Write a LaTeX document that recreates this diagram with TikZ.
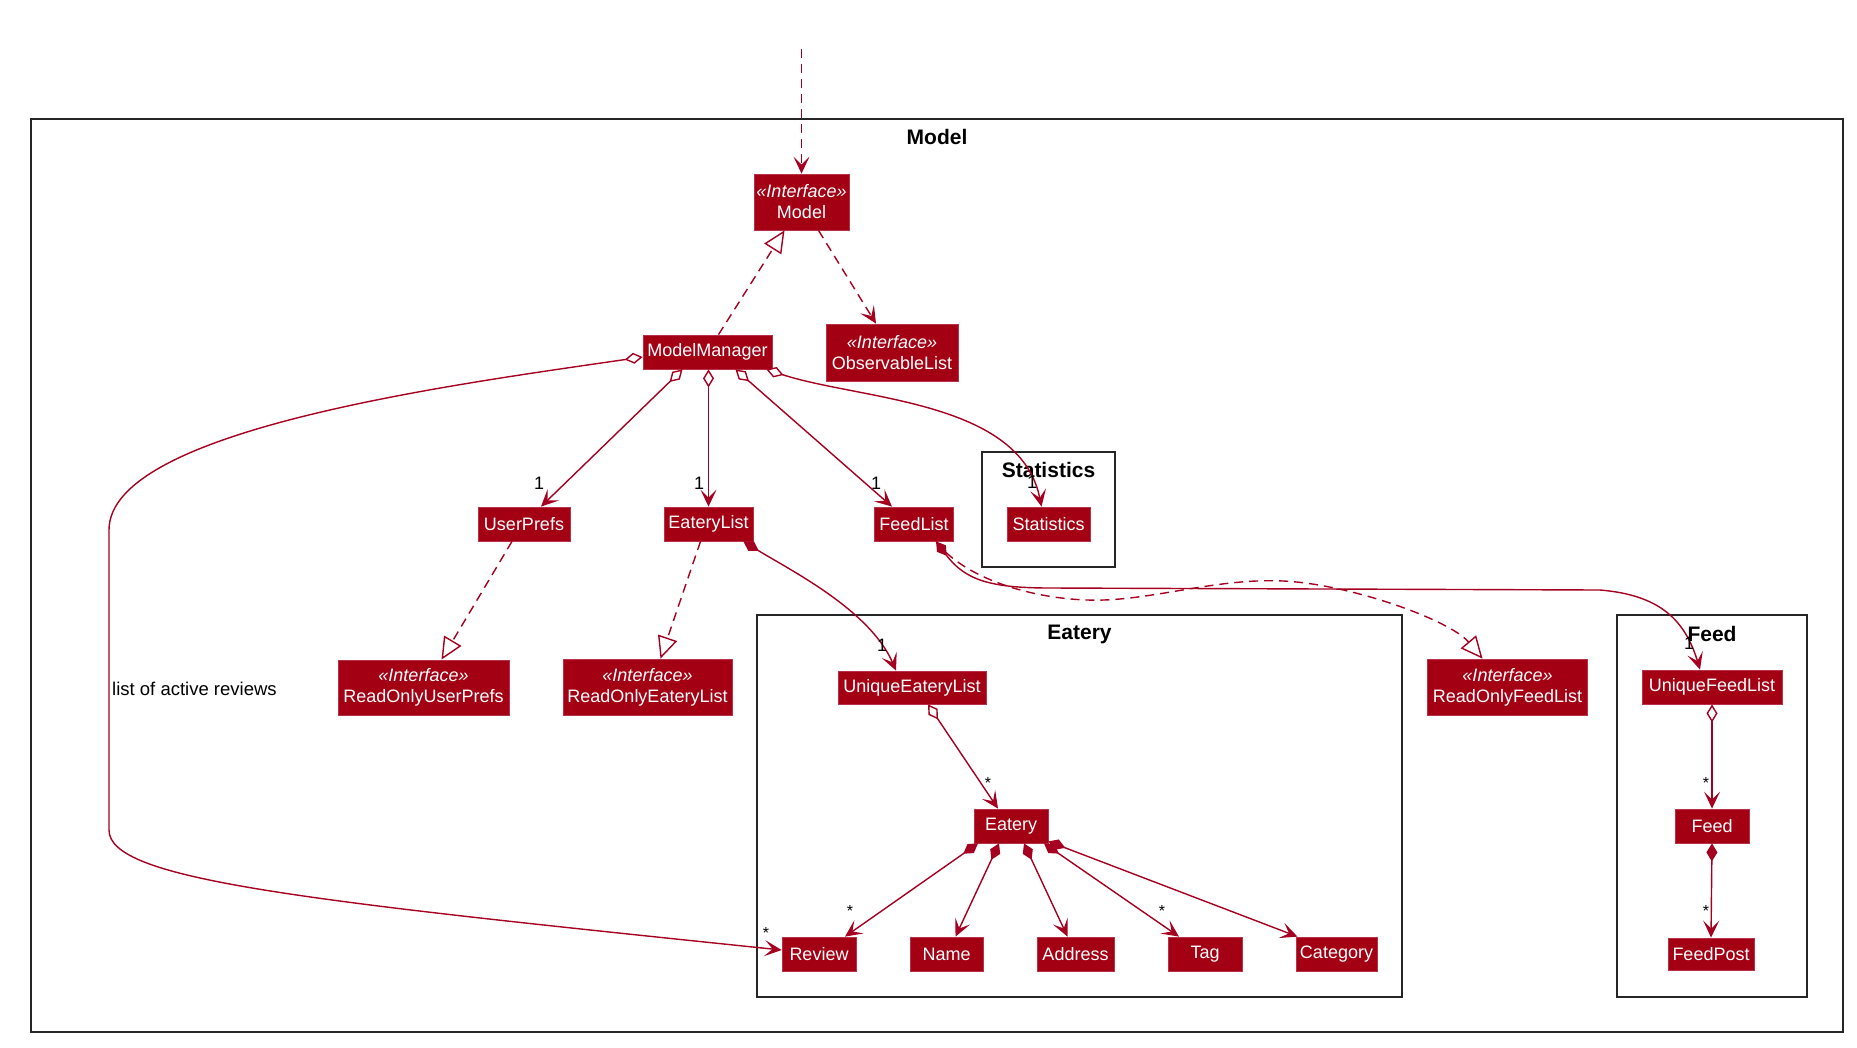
\documentclass[tikz,border=0pt]{standalone}
\usepackage{fontspec}
\setmainfont{Liberation Sans}
\usetikzlibrary{arrows.meta}
\definecolor{clsred}{HTML}{A30014}
\definecolor{clsborder}{HTML}{B8304A}
\definecolor{lnred}{HTML}{A50020}
\begin{document}
\begin{tikzpicture}[x=1pt,y=-1pt,
  cls/.style={draw=clsborder, line width=0.8pt, fill=clsred, text=white,
    font=\fontsize{18}{21}\selectfont, inner sep=0pt, align=center},
  pkgframe/.style={draw=black!85, line width=2pt},
  pkglabel/.style={font=\bfseries\fontsize{21}{21}\selectfont, inner sep=0pt},
  mult/.style={font=\fontsize{18}{18}\selectfont, inner sep=0pt},
  starlbl/.style={font=\fontsize{16}{16}\selectfont, inner sep=0pt},
  conn/.style={draw=lnred, line width=1.4pt},
  dashln/.style={dash pattern=on 9pt off 6pt},
  opentip/.tip={Stealth[length=17pt,width=16pt,inset=8pt]},
  assoc/.style={conn, -opentip},
  dep/.style={conn, dashln, -opentip},
  real/.style={conn, dashln, -{Triangle[open,length=22pt,width=20pt,fill=white]}},
  aggr/.style={conn, {Diamond[open,length=18pt,width=11pt,fill=white]}-opentip},
  comp/.style={conn, {Diamond[length=18pt,width=11pt]}-opentip},
  compdash/.style={conn, dashln}
]
\useasboundingbox (0,0) rectangle (1857,1047);

% packages
\draw[pkgframe] (31,119) rectangle (1843,1032);
\node[pkglabel] (lblmodel) at (937,137) {Model};
\draw[pkgframe] (982,452) rectangle (1115,567);
\node[pkglabel] (lblstat) at (1048.5,470) {Statistics};
\draw[pkgframe] (757,615) rectangle (1402,997);
\node[pkglabel] (lbleatery) at (1079.5,634) {Eatery};
\draw[pkgframe] (1617,615) rectangle (1807,997);
\node[pkglabel] (lblfeed) at (1712,634) {Feed};

% classes
\node[cls, minimum width=95pt, minimum height=56pt] (model) at (801.5,202) {{\itshape «Interface»}\\Model};
\node[cls, minimum width=132pt, minimum height=57pt] (obs) at (892,352.5) {{\itshape «Interface»}\\ObservableList};
\node[cls, minimum width=129pt, minimum height=34pt] (mm) at (707.5,352) {ModelManager};
\node[cls, minimum width=92pt, minimum height=34pt] (up) at (524,524) {UserPrefs};
\node[cls, minimum width=89pt, minimum height=34pt] (el) at (708.5,524) {EateryList};
\node[cls, minimum width=79pt, minimum height=34pt] (fl) at (914,524) {FeedList};
\node[cls, minimum width=83pt, minimum height=34pt] (stn) at (1048.5,524) {Statistics};
\node[cls, minimum width=171pt, minimum height=55pt] (rup) at (423.5,687.5) {{\itshape «Interface»}\\ReadOnlyUserPrefs};
\node[cls, minimum width=169pt, minimum height=56pt] (rel) at (647.5,687) {{\itshape «Interface»}\\ReadOnlyEateryList};
\node[cls, minimum width=148pt, minimum height=33pt] (uel) at (912,687.5) {UniqueEateryList};
\node[cls, minimum width=160pt, minimum height=56pt] (rofl) at (1507.5,687) {{\itshape «Interface»}\\ReadOnlyFeedList};
\node[cls, minimum width=140pt, minimum height=34pt] (ufl) at (1712,687) {UniqueFeedList};
\node[cls, minimum width=74pt, minimum height=34pt] (eat) at (1011,826) {Eatery};
\node[cls, minimum width=74pt, minimum height=34pt] (rev) at (819,954) {Review};
\node[cls, minimum width=73pt, minimum height=34pt] (nm) at (946.5,954) {Name};
\node[cls, minimum width=77pt, minimum height=34pt] (addr) at (1075.5,954) {Address};
\node[cls, minimum width=74pt, minimum height=34pt] (tg) at (1205,954) {Tag};
\node[cls, minimum width=81pt, minimum height=34pt] (cat) at (1336.5,954) {Category};
\node[cls, minimum width=74pt, minimum height=34pt] (feed) at (1712,826) {Feed};
\node[cls, minimum width=86pt, minimum height=32pt] (fp) at (1711,954) {FeedPost};

% connectors
\coordinate (topsrc) at (801.5,49);
\draw[dep] (topsrc) -- (model.north);
\draw[dep] ([xshift=17pt]model.south) -- ([xshift=-16pt]obs.north);
\draw[real] ([xshift=11pt]mm.north) -- ([xshift=-17pt]model.south);

\draw[aggr] ([xshift=-25pt]mm.south) -- ([xshift=17pt]up.north);
\draw[aggr] ([xshift=1pt]mm.south) -- (el.north);
\draw[aggr] ([xshift=28pt]mm.south) -- ([xshift=-22pt]fl.north);
\draw[aggr] ([xshift=-6pt]mm.south east) .. controls (860,400) and (1020,400) .. ([xshift=-7pt]stn.north);
\draw[aggr] ([yshift=-5pt]mm.west) .. controls (450,385) and (109,430) .. (109,530)
   -- (109,830) .. controls (109,880) and (300,900) .. ([yshift=4pt]rev.west);

\draw[real] ([xshift=-12pt]up.south) -- ([xshift=18pt]rup.north);
\draw[real] ([xshift=-8pt]el.south) -- ([xshift=13pt]rel.north);
\draw[comp] ([xshift=-10pt]el.south east) .. controls (790,570) and (870,610) .. ([xshift=-16pt]uel.north);
\draw[aggr] ([xshift=16pt]uel.south) -- ([xshift=-13pt]eat.north);

\draw[comp] ([xshift=-33pt]eat.south) -- ([xshift=26pt]rev.north);
\draw[comp] ([xshift=-12pt]eat.south) -- ([xshift=9pt]nm.north);
\draw[comp] ([xshift=13pt]eat.south) -- ([xshift=-8pt]addr.north);
\draw[comp] ([xshift=33pt]eat.south) -- ([xshift=-26pt]tg.north);
\draw[comp] ([yshift=2pt]eat.south east) -- ([xshift=-39pt]cat.north);

\draw[real] ([xshift=22pt]fl.south) .. controls (965,580) and (1040,602) .. (1104,600)
   .. controls (1160,598) and (1220,578) .. (1283,581)
   .. controls (1350,584) and (1450,620) .. ([xshift=-25pt]rofl.north);
\draw[comp] ([xshift=22pt]fl.south) .. controls (965,580) and (990,588) .. (1050,588)
   -- (1600,590) .. controls (1660,595) and (1685,620) .. ([xshift=-12pt]ufl.north);

\draw[aggr] (ufl.south) -- (feed.north);
\draw[comp] (feed.south) -- (fp.north);

% labels
\node[mult] (m1) at (539,483) {1};
\node[mult] (m2) at (699,483) {1};
\node[mult] (m3) at (876,483) {1};
\node[mult] (m4) at (1032,482) {1};
\node[mult] (m5) at (882,645) {1};
\node[mult] (m6) at (1689,643) {1};
\node[starlbl] (s1) at (766,933) {*};
\node[starlbl] (s2) at (988,783) {*};
\node[starlbl] (s3) at (850,911) {*};
\node[starlbl] (s4) at (1162,911) {*};
\node[starlbl] (s5) at (1706,783) {*};
\node[starlbl] (s6) at (1706,911) {*};
\node[font=\fontsize{18.5}{18.5}\selectfont, inner sep=0pt, anchor=west] (lar) at (112,689) {list of active reviews};
\end{tikzpicture}
\end{document}
